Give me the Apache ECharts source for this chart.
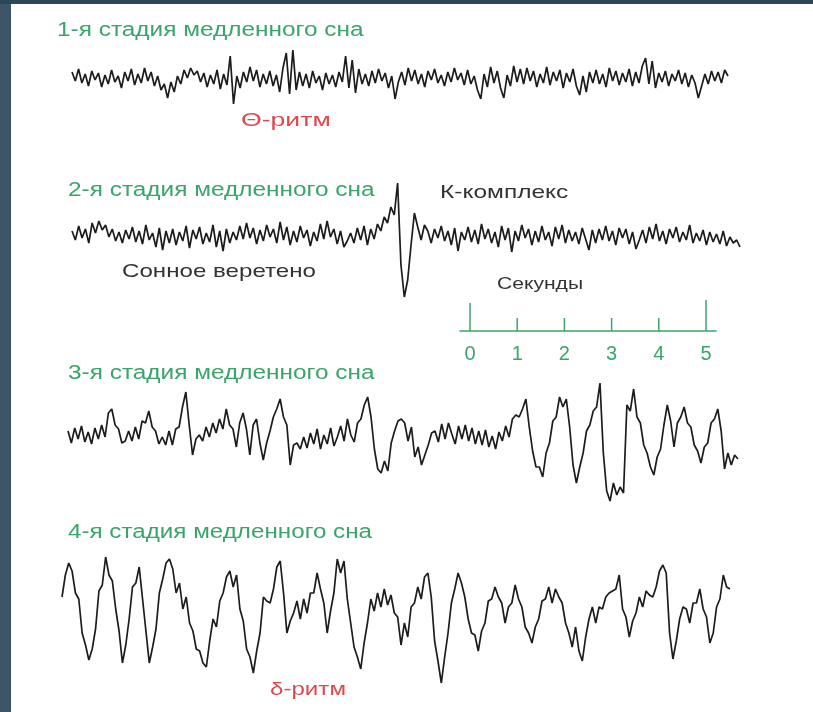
<!DOCTYPE html>
<html><head><meta charset="utf-8">
<script src="https://cdn.jsdelivr.net/npm/echarts@6/dist/echarts.min.js"></script>
<style>html,body{margin:0;padding:0;background:#fff}#c{width:813px;height:712px}</style>
</head><body><div id="c"></div>
<script>
// EEG traces: amplitude (up positive), evenly sampled along each trace
const stage1 = [
 6,-3,9,-5,4,-8,7,-2,5,-9,
 3,-6,8,-4,2,-10,6,-3,9,-7,
 4,-5,10,-3,6,-8,2,-12,-6,-20,
 -4,-14,2,-6,8,0,10,3,7,-4,
 5,-9,3,-6,8,-11,4,-7,22,-26,
 2,-10,6,-4,11,-3,8,-9,4,-6,
 7,-8,3,-14,10,25,-16,28,-12,6,
 -8,4,-10,7,-5,2,-12,5,-6,3,
 -9,6,-4,22,-10,18,-15,9,-6,4,
 -8,7,-5,9,-3,5,-10,2,-21,-4,
 6,-7,10,-3,8,-6,4,-9,7,-2,
 9,-5,3,-8,6,-4,10,-2,5,-7,
 8,-6,2,-12,-21,4,-9,11,-5,7,
 -10,-20,3,-8,12,-4,9,-6,10,-3,
 7,-9,4,-5,11,-7,6,-3,8,-10,
 5,-4,9,-8,-17,2,-14,6,-5,8,
 -6,4,-9,10,-3,7,-7,5,-4,9,
 -8,6,-5,12,20,-6,17,-10,5,-4,
 7,-8,4,-3,8,-6,5,-9,3,-5,
 -20,-8,4,-6,7,-3,6,-5,8,2
];
const stage2 = [
 4,-5,9,-3,6,-8,12,2,14,5,
 10,-2,6,-6,3,-8,5,-4,8,-7,
 4,-9,10,-5,2,-12,7,-15,4,-8,
 6,-10,3,-6,9,-13,5,-4,8,-9,
 2,-7,10,-12,4,-16,6,-8,3,-5,
 9,-4,12,-3,7,-9,5,-6,10,-2,
 6,-8,13,-5,8,-10,4,-7,9,-3,
 5,-11,3,-6,11,-4,14,-2,6,-9,
 4,-12,-6,2,-8,7,-5,9,-10,6,
 -4,11,4,18,12,28,20,52,-30,-62,
 -45,-10,22,8,-5,10,4,-8,6,-3,
 9,-6,4,-10,7,-16,3,-5,8,-7,
 5,-9,11,-4,6,-8,3,-12,9,-5,
 7,-17,4,-6,10,-3,6,-10,4,-7,
 9,-5,3,-11,8,-4,10,-8,5,-6,
 3,-9,7,-4,-15,5,-8,6,-5,9,
 -6,4,-10,7,-3,6,-9,3,-14,-5,
 5,-8,8,-4,11,-6,4,-9,6,-3,
 8,-7,3,-5,10,-8,2,-6,5,-10,
 3,-7,1,-9,4,-11,-2,-8,-5,-12
];
const stage3 = [
 4,-8,7,-4,9,-7,3,-9,7,-4,
 10,-2,22,26,10,6,-8,-6,4,-6,
 8,-4,14,12,24,8,4,-9,-2,-10,
 4,-10,6,8,28,43,10,-20,-4,0,
 -6,8,-2,12,2,16,6,26,10,6,
 -12,12,22,6,-20,10,16,-8,-25,-8,
 4,18,26,36,18,10,-30,-10,-8,-14,
 -2,-13,2,-9,6,-14,0,-9,7,-11,
 -2,9,-6,16,0,-7,12,16,30,38,
 18,-14,-34,-38,-26,-36,-8,4,14,16,
 12,-6,8,-22,-12,-30,-20,-10,2,4,
 -7,11,-4,12,1,-9,9,-4,10,-6,
 7,-9,4,-10,5,-12,-1,-14,3,-6,
 9,-2,16,20,18,26,36,8,-16,-32,
 -32,-42,-18,-8,14,18,38,28,36,8,
 -30,-48,-32,-18,4,10,24,28,52,-18,
 -56,-66,-48,-60,-52,-58,30,24,46,18,
 12,-10,-18,-32,-40,-22,-14,10,30,14,
 -12,12,18,28,12,8,-10,-16,-28,-12,
 -8,12,16,26,4,-34,-18,-30,-20,-24
];
const stage4 = [
 18,40,52,44,22,16,-18,-30,-45,-34,
 -14,24,30,58,40,34,6,-16,-48,-30,
 -4,28,32,48,16,-16,-48,-32,-14,22,
 36,52,56,46,22,32,6,18,-8,-16,
 -34,-36,-48,-52,-26,-4,-12,14,22,38,
 44,28,40,6,-6,-34,-42,-58,-36,-18,
 18,14,12,26,48,54,22,-18,-6,2,
 14,-4,16,2,22,22,42,26,12,-18,
 4,22,56,42,54,16,-8,-32,-42,-54,
 -28,-8,16,4,22,8,26,10,20,2,
 -2,-30,-8,-22,8,12,28,16,38,42,
 18,-26,-46,-68,-42,-18,12,26,42,32,
 18,-4,-18,-20,-36,-16,-8,14,16,28,
 18,12,-8,8,12,30,16,8,-12,-18,
 -28,-12,-4,14,16,28,12,26,18,12,
 -8,-18,-32,-12,-36,-46,-22,-4,8,-8,
 8,6,18,22,24,26,40,6,-2,-22,
 -6,2,18,8,24,20,18,28,44,50,
 42,-18,-44,-26,-4,8,6,-8,12,12,
 26,6,-2,-28,-18,8,16,40,28,26
];
const stageTitles = ['1-я стадия медленного сна','2-я стадия медленного сна','3-я стадия медленного сна','4-я стадия медленного сна'];
const scaleTicks = [0,1,2,3,4,5];
const scaleTickHeights = [28,13,13,13,13,31];
const scaleTitle = 'Секунды';

const GREEN = '#3aa56a', RED = '#e0474c', DARK = '#333333', INK = '#1c1c1c';
const FONT = '"Liberation Sans", Arial, sans-serif';
const traces = [stage1, stage2, stage3, stage4];
const grids = [
  {left:72, width:656, top:18, height:120},
  {left:72, width:668, top:155, height:160},
  {left:68, width:670, top:355, height:160},
  {left:62, width:668, top:535, height:160},
  {left:460, width:256, top:296, height:35}
];
const half = [60,80,80,80];
const xAxes = [], yAxes = [], series = [];
traces.forEach((d, k) => {
  xAxes.push({gridIndex:k, type:'category', boundaryGap:false, data:d.map((_, i) => i), show:false});
  yAxes.push({gridIndex:k, type:'value', min:-half[k], max:half[k], show:false});
  series.push({type:'line', xAxisIndex:k, yAxisIndex:k, data:d, showSymbol:false, silent:true,
    lineStyle:{color:INK, width:1.7}, animation:false});
});
xAxes.push({gridIndex:4, type:'value', min:-0.212, max:5.212, splitLine:{show:false},
  axisLine:{show:true, lineStyle:{color:GREEN, width:1.5}}, axisTick:{show:false},
  axisLabel:{show:true, customValues:scaleTicks, color:GREEN, fontSize:20, fontFamily:FONT, margin:13}});
yAxes.push({gridIndex:4, type:'value', min:0, max:35, show:false});
series.push({type:'bar', xAxisIndex:4, yAxisIndex:4, barWidth:1.5, silent:true, animation:false,
  itemStyle:{color:GREEN}, data:scaleTicks.map((t, i) => [t, scaleTickHeights[i]])});

function txt(text, x, y, color, size, sx) {
  return {type:'text', x:x, y:y, scaleX:sx, silent:true,
    style:{text:text, fill:color, font:size + 'px ' + FONT, verticalAlign:'middle', align:'left'}};
}
const graphic = [
  {type:'rect', shape:{x:0, y:0, width:11, height:712}, style:{fill:'#3d5566'}, silent:true},
  {type:'rect', shape:{x:0, y:0, width:813, height:4}, style:{fill:'#2c4757'}, silent:true},
  txt(stageTitles[0], 57, 30, GREEN, 20, 1.22),
  txt('Θ-ритм', 241, 121, RED, 19, 1.4),
  txt(stageTitles[1], 68, 190, GREEN, 20, 1.22),
  txt('К-комплекс', 440, 193, DARK, 19, 1.29),
  txt('Сонное веретено', 122, 272, DARK, 19, 1.27),
  txt(scaleTitle, 497, 284, DARK, 17, 1.24),
  txt(stageTitles[2], 68, 373, GREEN, 20, 1.22),
  txt(stageTitles[3], 68, 532, GREEN, 20, 1.21),
  txt('δ-ритм', 270, 690, RED, 18, 1.34)
];
const chart = echarts.init(document.getElementById('c'), null, {renderer:'canvas'});
chart.setOption({backgroundColor:'#ffffff', animation:false, grid:grids, xAxis:xAxes, yAxis:yAxes, series:series, graphic:graphic});
</script></body></html>
